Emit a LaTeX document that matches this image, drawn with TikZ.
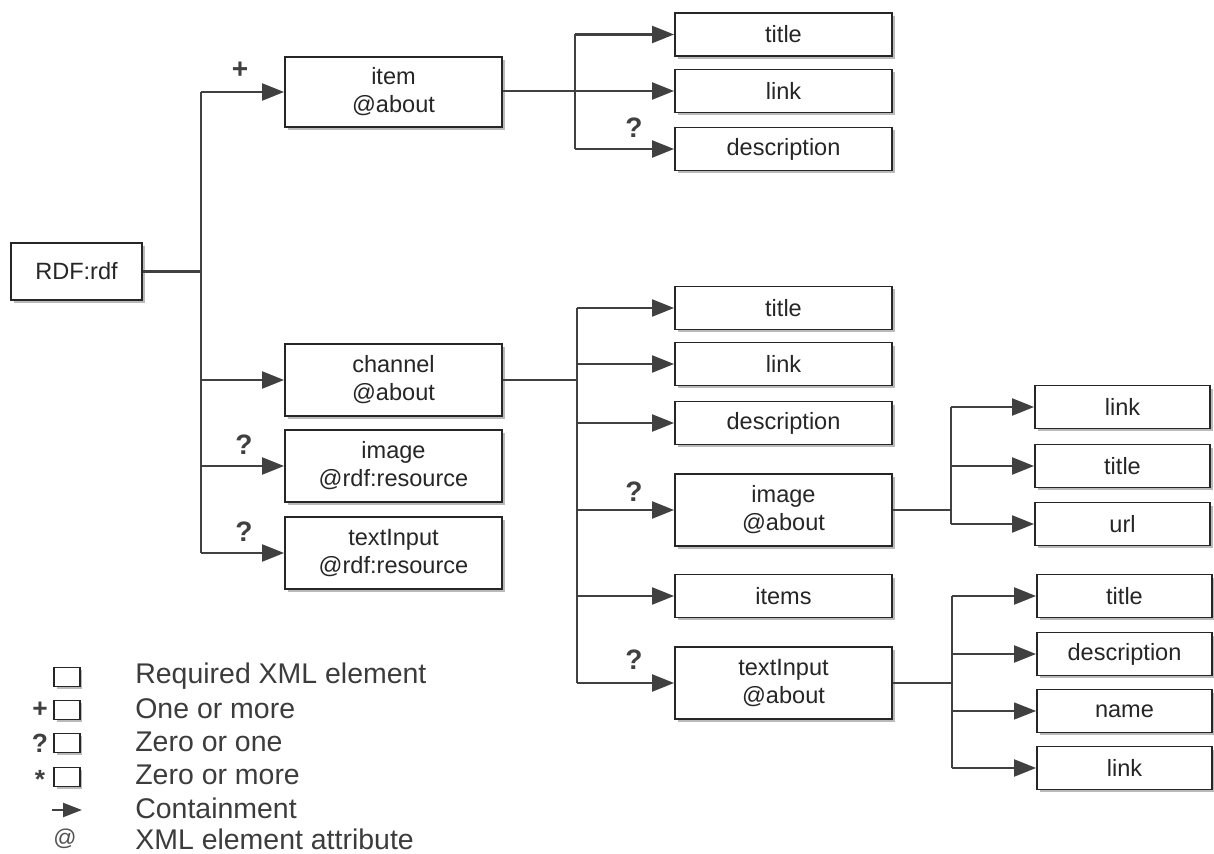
\documentclass[tikz,border=0pt]{standalone}
\usepackage{fontspec}
\setmainfont{Liberation Sans}
\usetikzlibrary{arrows.meta,shadows}
\definecolor{lin}{HTML}{404040}
\definecolor{txt}{HTML}{262626}
\tikzset{
  box/.style={draw=black!85, line width=1.1pt, fill=white, inner sep=0pt, align=center,
    text=txt, font=\fontsize{13.4}{15.9}\selectfont,
    drop shadow={shadow xshift=0.06cm, shadow yshift=-0.06cm, fill=black!45, opacity=0.6}},
  bigbox/.style={box, minimum width=4.34cm, minimum height=1.44cm},
  midbox/.style={box, minimum width=4.34cm, minimum height=0.86cm},
  smallbox/.style={box, minimum width=3.5cm, minimum height=0.86cm},
  conn/.style={draw=lin, line width=1.3pt},
  arr/.style={conn, -{Triangle[length=0.44cm, width=0.34cm]}},
  card/.style={text=lin, font=\fontsize{16}{16}\bfseries\selectfont, inner sep=0pt},
  legtext/.style={anchor=west, text=txt!90, font=\fontsize{16.2}{18}\selectfont, inner sep=0pt},
  legbox/.style={draw=black!85, line width=0.9pt, fill=white, minimum width=0.52cm, minimum height=0.38cm, inner sep=0pt,
    drop shadow={shadow xshift=0.05cm, shadow yshift=-0.05cm, fill=black!45, opacity=0.6}},
}
\begin{document}
\begin{tikzpicture}[x=0.02cm, y=-0.02cm]
\useasboundingbox (0,0) rectangle (1214,854);

% root
\node[box, minimum width=2.62cm, minimum height=1.14cm] (rdf) at (76.5,271.5) {RDF:rdf};

% level 1
\node[bigbox, minimum height=1.4cm] (item) at (393.5,92) {item\\@about};
\node[bigbox] (channel) at (393.5,380) {channel\\@about};
\node[bigbox] (image1) at (393.5,466) {image\\@rdf:resource};
\node[bigbox] (text1) at (393.5,553) {textInput\\@rdf:resource};

% item children
\node[midbox] (ititle) at (783.5,34.5) {title};
\node[midbox] (ilink) at (783.5,91) {link};
\node[midbox] (idesc) at (783.5,149) {description};

% channel children
\node[midbox] (ctitle) at (783.5,308) {title};
\node[midbox] (clink) at (783.5,364) {link};
\node[midbox] (cdesc) at (783.5,423) {description};
\node[bigbox] (cimage) at (783.5,510) {image\\@about};
\node[midbox] (citems) at (783.5,596) {items};
\node[bigbox] (ctext) at (783.5,683) {textInput\\@about};

% image children
\node[smallbox] (mlink) at (1122.5,407) {link};
\node[smallbox] (mtitle) at (1122.5,466) {title};
\node[smallbox] (murl) at (1122.5,524) {url};

% textInput children
\node[smallbox] (ttitle) at (1124.5,596) {title};
\node[smallbox] (tdesc) at (1124.5,654) {description};
\node[smallbox] (tname) at (1124.5,711) {name};
\node[smallbox] (tlink) at (1124.5,768) {link};

% branch coordinates
\coordinate (b0) at (201,0);
\coordinate (b1) at (575,0);
\coordinate (b2) at (577,0);
\coordinate (b3) at (951,0);
\coordinate (b4) at (952,0);

% root connectors
\draw[conn] (rdf.east) -- (b0 |- rdf.east);
\draw[conn] (b0 |- item.west) -- (b0 |- text1.west);
\draw[arr] (b0 |- item.west) -- (item.west);
\draw[arr] (b0 |- channel.west) -- (channel.west);
\draw[arr] (b0 |- image1.west) -- (image1.west);
\draw[arr] (b0 |- text1.west) -- (text1.west);

% item connectors
\draw[arr] (item.east |- ilink.west) -- (ilink.west);
\draw[conn] (b1 |- ititle.west) -- (b1 |- idesc.west);
\draw[arr] (b1 |- ititle.west) -- (ititle.west);
\draw[arr] (b1 |- idesc.west) -- (idesc.west);

% channel connectors
\draw[conn] (channel.east) -- (b2 |- channel.east);
\draw[conn] (b2 |- ctitle.west) -- (b2 |- ctext.west);
\draw[arr] (b2 |- ctitle.west) -- (ctitle.west);
\draw[arr] (b2 |- clink.west) -- (clink.west);
\draw[arr] (b2 |- cdesc.west) -- (cdesc.west);
\draw[arr] (b2 |- cimage.west) -- (cimage.west);
\draw[arr] (b2 |- citems.west) -- (citems.west);
\draw[arr] (b2 |- ctext.west) -- (ctext.west);

% image connectors
\draw[conn] (cimage.east) -- (b3 |- cimage.east);
\draw[conn] (b3 |- mlink.west) -- (b3 |- murl.west);
\draw[arr] (b3 |- mlink.west) -- (mlink.west);
\draw[arr] (b3 |- mtitle.west) -- (mtitle.west);
\draw[arr] (b3 |- murl.west) -- (murl.west);

% textInput connectors
\draw[conn] (ctext.east) -- (b4 |- ctext.east);
\draw[conn] (b4 |- ttitle.west) -- (b4 |- tlink.west);
\draw[arr] (b4 |- ttitle.west) -- (ttitle.west);
\draw[arr] (b4 |- tdesc.west) -- (tdesc.west);
\draw[arr, line width=0.7pt] (b4 |- tname.west) -- (tname.west);
\draw[arr] (b4 |- tlink.west) -- (tlink.west);

% cardinality labels
\node[card] (c1) at (240,70) {+};
\node[card] (c2) at (244,445) {?};
\node[card] (c3) at (244,532) {?};
\node[card] (c4) at (634,128) {?};
\node[card] (c5) at (634,492) {?};
\node[card] (c6) at (634,660) {?};

% legend
\node[legbox] (lb1) at (67,677) {};
\node[legbox] (lb2) at (67,710) {};
\node[legbox] (lb3) at (67,743) {};
\node[legbox] (lb4) at (67,777) {};
\node[card, font=\fontsize{15}{15}\bfseries\selectfont] (ls2) at (40,710) {+};
\node[card, font=\fontsize{15}{15}\bfseries\selectfont] (ls3) at (40,743) {?};
\node[card, font=\fontsize{15}{15}\bfseries\selectfont] (ls4) at (40,779) {*};
\coordinate (la0) at (52,810);
\coordinate (la1) at (82,810);
\draw[conn, -{Triangle[length=0.38cm, width=0.28cm]}] (la0) -- (la1);
\node[text=txt!80, font=\fontsize{13}{13}\selectfont, inner sep=0pt] (lat) at (65,839) {@};

\node[legtext] (lt1) at (135,676) {Required XML element};
\node[legtext] (lt2) at (135,709) {One or more};
\node[legtext] (lt3) at (135,742) {Zero or one};
\node[legtext] (lt4) at (135,775) {Zero or more};
\node[legtext] (lt5) at (135,808) {Containment};
\node[legtext] (lt6) at (135,839) {XML element attribute};
\end{tikzpicture}
\end{document}
